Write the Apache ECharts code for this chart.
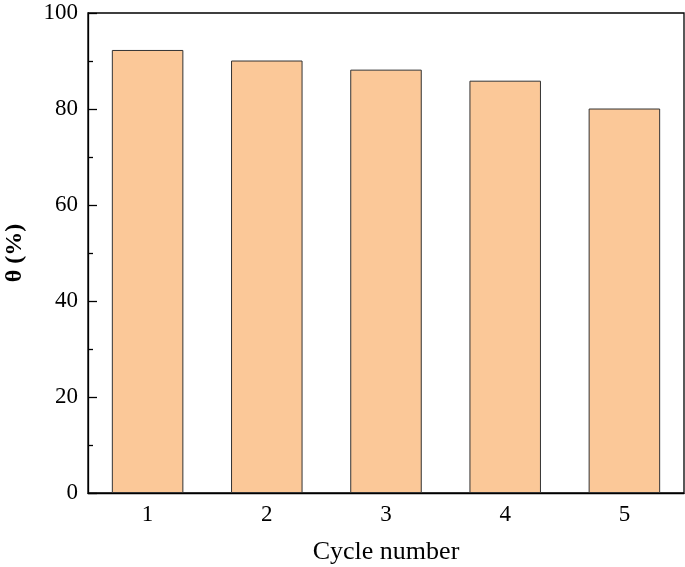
<!DOCTYPE html>
<html>
<head>
<meta charset="utf-8">
<script src="https://cdn.jsdelivr.net/npm/echarts@6/dist/echarts.min.js"></script>
<style>
  html, body { margin: 0; padding: 0; background: #fff; }
  #chart { width: 685px; height: 567px; }
</style>
</head>
<body>
<div id="chart"></div>
<script>
// 循环次数与对应的 θ 值
const cycles = ['1', '2', '3', '4', '5']
const thetaValues = [92.3, 90.1, 88.2, 85.9, 80.1]
const yTicks = [0, 20, 40, 60, 80, 100]

const chart = echarts.init(document.getElementById('chart'))
const font = 'Liberation Serif, Times New Roman, serif'

const option = {
  animation: false,
  grid: {
    left: 88,
    right: 1,
    top: 13,
    bottom: 74,
    outerBoundsMode: 'none',
    containLabel: false,
    show: true,
    borderColor: '#000',
    borderWidth: 1.3
  },
  xAxis: {
    type: 'category',
    data: cycles,
    name: 'Cycle number',
    nameLocation: 'middle',
    nameGap: 46,
    nameTextStyle: { fontFamily: font, fontSize: 26, color: '#000' },
    axisLine: { lineStyle: { color: '#000', width: 1.3 } },
    axisTick: { show: false },
    axisLabel: { fontFamily: font, fontSize: 23, color: '#000', margin: 10 }
  },
  yAxis: {
    type: 'value',
    min: yTicks[0],
    max: yTicks[yTicks.length - 1],
    interval: 20,
    name: 'θ (%)',
    nameLocation: 'middle',
    nameGap: 61,
    nameTextStyle: { fontFamily: font, fontSize: 24, fontWeight: 'bold', color: '#000' },
    axisLine: { show: true, lineStyle: { color: '#000', width: 1.3 } },
    axisTick: { show: true, inside: true, length: 9, lineStyle: { color: '#000', width: 1.3 } },
    minorTick: { show: true, splitNumber: 2, length: 5, lineStyle: { color: '#000', width: 1.3 } },
    splitLine: { show: false },
    axisLabel: { fontFamily: font, fontSize: 23, color: '#000', margin: 10 }
  },
  series: [
    {
      type: 'bar',
      data: thetaValues,
      barWidth: '60%',
      itemStyle: {
        color: '#FBC898',
        borderColor: '#333',
        borderWidth: 1
      }
    }
  ]
}
chart.setOption(option)
</script>
</body>
</html>
